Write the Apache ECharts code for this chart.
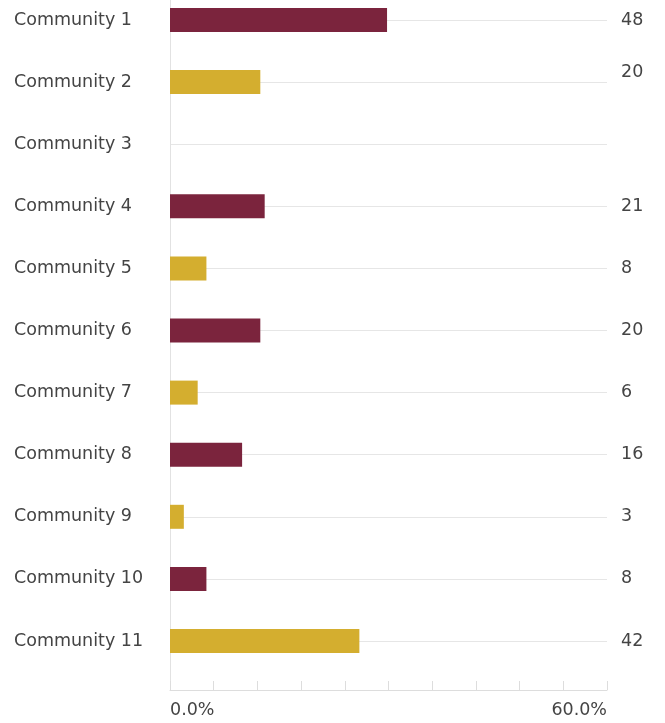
<!DOCTYPE html>
<html>
<head>
<meta charset="utf-8">
<script src="https://cdn.jsdelivr.net/npm/echarts@6/dist/echarts.min.js"></script>
<style>
  html, body { margin: 0; padding: 0; background: #fff; }
  #main { width: 665px; height: 723px; }
</style>
</head>
<body>
<div id="main"></div>
<script>
// data
var categories = ['Community 1', 'Community 2', 'Community 3', 'Community 4', 'Community 5',
  'Community 6', 'Community 7', 'Community 8', 'Community 9', 'Community 10', 'Community 11'];
var counts = [48, 20, null, 21, 8, 20, 6, 16, 3, 8, 42];
var shares = [29.8, 12.4, null, 13.0, 5.0, 12.4, 3.8, 9.9, 1.9, 5.0, 26.0];
var barColors = ['maroon', 'gold', null, 'maroon', 'gold', 'maroon', 'gold', 'maroon', 'gold', 'maroon', 'gold'];
var axisMin = 0, axisMax = 60, axisStep = 6;

var palette = { maroon: '#7b243d', gold: '#d4ae2f' };
var textColor = '#444444';
var font = 'DejaVu Sans';
var fs = 17.5;

var barData = shares.map(function (v, i) {
  return { value: v, itemStyle: { color: palette[barColors[i]] || '#ccc' } };
});

var myChart = echarts.init(document.getElementById('main'));
var option = {
  animation: false,
  textStyle: { fontFamily: font },
  grid: [
    { left: 170, right: 58, top: 20, bottom: 82 },
    { left: 170, right: 58, top: 0, bottom: 33 }
  ],
  xAxis: [
    { gridIndex: 0, type: 'value', min: axisMin, max: axisMax, show: false },
    {
      gridIndex: 1, type: 'value', min: axisMin, max: axisMax, interval: axisStep,
      axisLine: { show: true, lineStyle: { color: '#dddddd', width: 1 } },
      axisTick: { show: true, inside: true, length: 9, lineStyle: { color: '#dddddd' } },
      splitLine: { show: false },
      axisLabel: {
        color: textColor, fontSize: fs, fontFamily: font, margin: 11,
        alignMinLabel: 'left', alignMaxLabel: 'right',
        formatter: function (v) {
          return (v === axisMin || v === axisMax) ? v.toFixed(1) + '%' : '';
        }
      }
    }
  ],
  yAxis: [
    {
      gridIndex: 0, type: 'category', inverse: true, boundaryGap: false,
      data: categories,
      axisLine: { show: false }, axisTick: { show: false },
      splitLine: { show: true, lineStyle: { color: '#e6e6e6', width: 1 } },
      axisLabel: { color: textColor, fontSize: fs, fontFamily: font, align: 'left', margin: 156 }
    },
    {
      gridIndex: 0, type: 'category', inverse: true, boundaryGap: false, position: 'right',
      data: counts.map(function (c) { return c == null ? '' : String(c); }),
      axisLine: { show: false }, axisTick: { show: false }, splitLine: { show: false },
      axisLabel: {
        color: textColor, fontSize: fs, fontFamily: font, align: 'left', margin: 14,
        formatter: function (v, i) {
          // the second label sits a little higher in the original
          return i === 1 ? '{up|' + v + '}' : v;
        },
        rich: { up: { color: textColor, fontSize: fs, fontFamily: font, padding: [0, 0, 20, 0] } }
      }
    },
    {
      gridIndex: 1, type: 'value', min: 0, max: 1,
      axisLine: { show: true, lineStyle: { color: '#e2e2e2', width: 1 } },
      axisTick: { show: false }, axisLabel: { show: false }, splitLine: { show: false }
    }
  ],
  series: [{
    type: 'bar', xAxisIndex: 0, yAxisIndex: 0,
    barWidth: 24, clip: false,
    data: barData
  }]
};
myChart.setOption(option);
</script>
</body>
</html>
